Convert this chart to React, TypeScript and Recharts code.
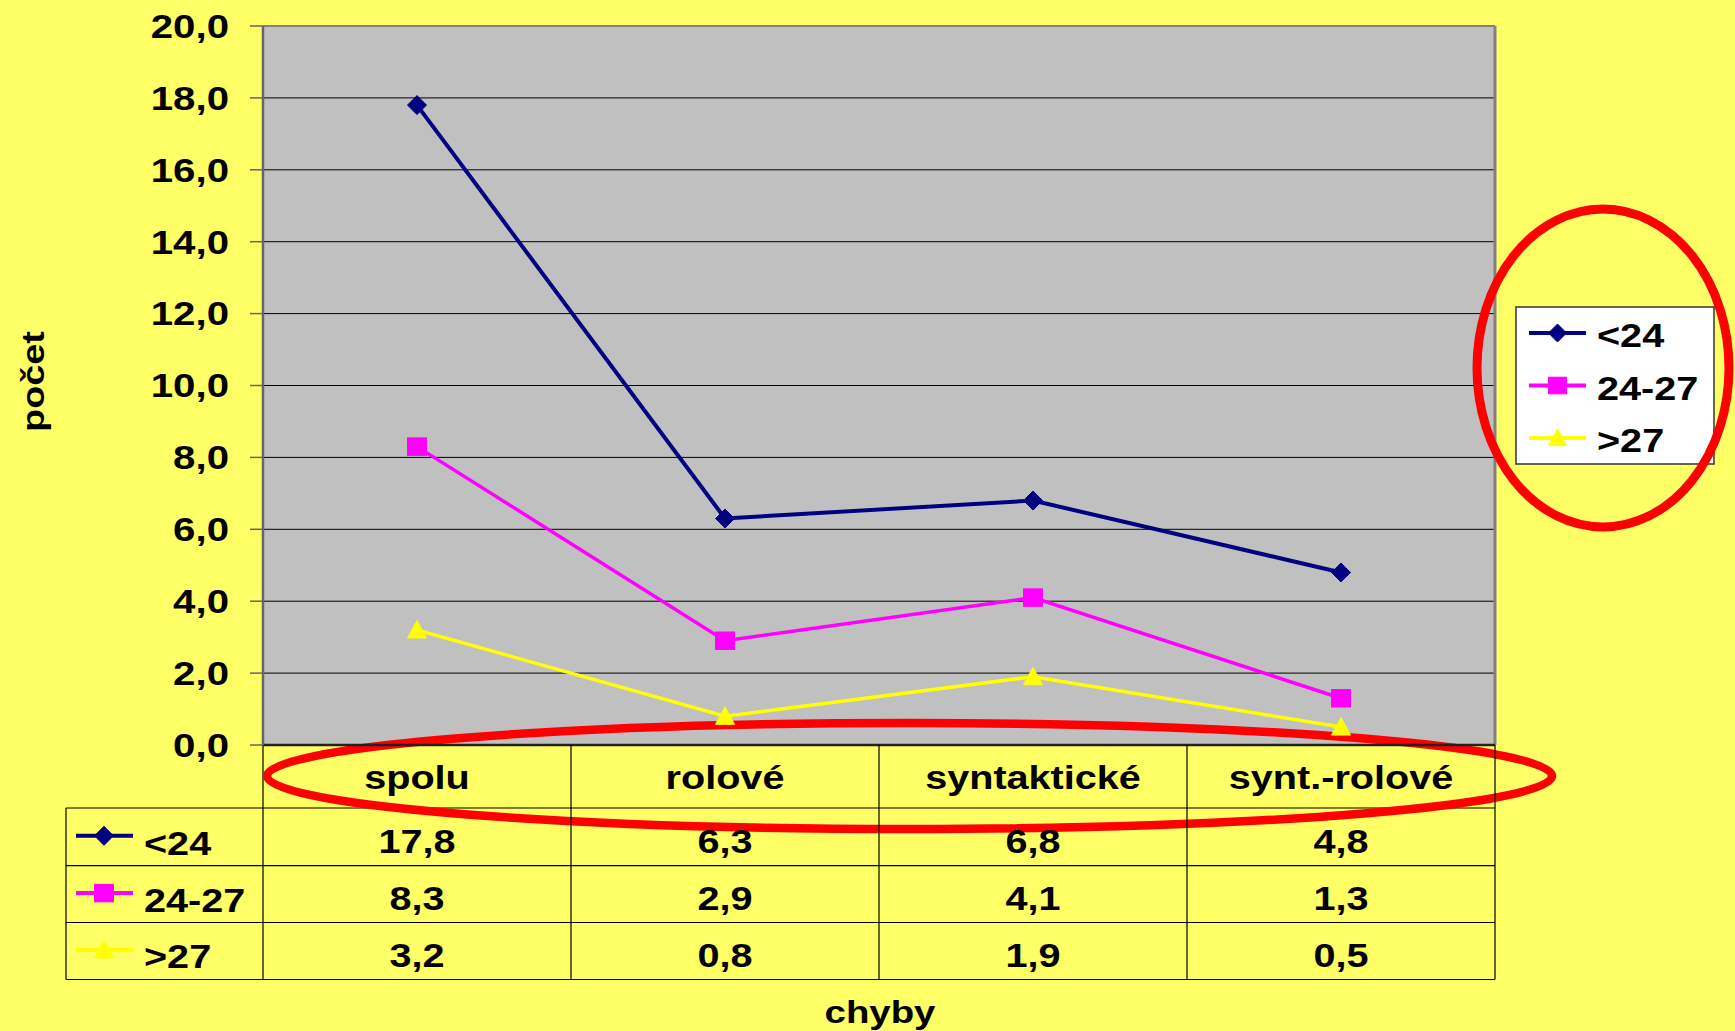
import React from 'react';
import { LineChart, Line, XAxis, YAxis, CartesianGrid, Customized } from 'recharts';

const categories = ['spolu', 'rolové', 'syntaktické', 'synt.-rolové'];
const seriesNames = ['<24', '24-27', '>27'];
const under24 = [17.8, 6.3, 6.8, 4.8];
const from24to27 = [8.3, 2.9, 4.1, 1.3];
const over27 = [3.2, 0.8, 1.9, 0.5];
const yTicks = [0, 2, 4, 6, 8, 10, 12, 14, 16, 18, 20];
const yAxisTitle = 'počet';
const xAxisTitle = 'chyby';

const seriesValues = [under24, from24to27, over27];
const seriesKeys = ['s0', 's1', 's2'];
const colors = ['#000080', '#FF00FF', '#FFFF00'];
const markers = ['diamond', 'square', 'triangle'];

const data = categories.map((name, i) => ({
  name,
  s0: under24[i],
  s1: from24to27[i],
  s2: over27[i],
}));

const W = 1735;
const H = 1031;
const FONT = '"Liberation Sans", Arial, sans-serif';
const STRETCH = 1.2;
const PLOT_LEFT = 263;
const PLOT_RIGHT = 1495;
const PLOT_TOP = 26;
const PLOT_BOTTOM = 745;
const HALF_BAND = 154;
const TABLE_LEFT = 66;
const ROW_LINES = [808, 865.7, 922.5, 979.5];
const HEADER_BASE = 789;
const ROW_BASES = [853, 910, 967];
const LABEL_BASES = [854.5, 911.5, 968];
const LEGEND_BOX = { x: 1516, y: 307, w: 198, h: 157 };
const BG = '#FFFF66';

const fmt = (v: number) => v.toFixed(1).replace('.', ',');

function SText({ x, y, anchor = 'middle', size = 33, rotate = 0, dy, children }: any) {
  const tr = `translate(${x},${y})${rotate ? ` rotate(${rotate})` : ''} scale(${STRETCH},1)`;
  return (
    <text transform={tr} x={0} y={0} dy={dy} textAnchor={anchor} fontFamily={FONT} fontWeight="bold" fontSize={size} fill="#000">
      {children}
    </text>
  );
}

function Marker({ type, cx, cy, color, r }: { type: string; cx: number; cy: number; color: string; r: number }) {
  if (type === 'diamond') {
    return <polygon points={`${cx},${cy - r} ${cx + r},${cy} ${cx},${cy + r} ${cx - r},${cy}`} fill={color} stroke={color} strokeWidth={1} />;
  }
  if (type === 'square') {
    return <rect x={cx - r} y={cy - r * 0.92} width={r * 2} height={r * 1.84} fill={color} stroke={color} strokeWidth={1} />;
  }
  return <polygon points={`${cx},${cy - r} ${cx + r},${cy + r * 0.85} ${cx - r},${cy + r * 0.85}`} fill={color} stroke={color} strokeWidth={1} />;
}

const makeDot = (si: number) => (props: any) => {
  const { cx, cy, index } = props;
  if (cx == null || cy == null) return <g key={`d${si}-${index}`} />;
  return (
    <g key={`d${si}-${index}`}>
      <Marker type={markers[si]} cx={cx} cy={cy} color={colors[si]} r={9.5} />
    </g>
  );
};

const CategoryTick = (props: any) => {
  const { x, payload } = props;
  const i = payload.index;
  return (
    <g>
      <SText x={x} y={HEADER_BASE}>{payload.value}</SText>
      {seriesValues.map((vals, r) => (
        <SText key={r} x={x} y={ROW_BASES[r]}>{fmt(vals[i])}</SText>
      ))}
      <line x1={x + HALF_BAND} y1={PLOT_BOTTOM} x2={x + HALF_BAND} y2={ROW_LINES[3]} stroke="#000" strokeWidth={1.2} />
    </g>
  );
};

const ValueTick = (props: any) => {
  const { x, y, payload } = props;
  return <SText x={x} y={y} anchor="end" size={33.5} dy="0.355em">{fmt(payload.value)}</SText>;
};

const Overlay = () => (
  <g>
    <line x1={PLOT_LEFT} y1={PLOT_BOTTOM} x2={PLOT_LEFT} y2={ROW_LINES[3]} stroke="#000" strokeWidth={1.2} />
    <line x1={TABLE_LEFT} y1={ROW_LINES[0]} x2={TABLE_LEFT} y2={ROW_LINES[3]} stroke="#000" strokeWidth={1.2} />
    {ROW_LINES.map((y, k) => (
      <line key={k} x1={TABLE_LEFT} y1={y} x2={PLOT_RIGHT} y2={y} stroke="#000" strokeWidth={1.2} />
    ))}
    {seriesNames.map((n, r) => {
      const cy = (ROW_LINES[r] + ROW_LINES[r + 1]) / 2 - 1;
      return (
        <g key={n}>
          <line x1={76} y1={cy} x2={133} y2={cy} stroke={colors[r]} strokeWidth={4} />
          <Marker type={markers[r]} cx={104} cy={cy} color={colors[r]} r={9.5} />
          <SText x={144} y={LABEL_BASES[r]} anchor="start">{n}</SText>
        </g>
      );
    })}
    {/* plot frame */}
    <line x1={PLOT_LEFT} y1={PLOT_TOP} x2={PLOT_RIGHT} y2={PLOT_TOP} stroke="#808080" strokeWidth={2} />
    <line x1={PLOT_RIGHT} y1={PLOT_TOP} x2={PLOT_RIGHT} y2={PLOT_BOTTOM} stroke="#808080" strokeWidth={3} />
    {/* legend */}
    <g transform={`translate(${LEGEND_BOX.x},${LEGEND_BOX.y})`}>
      <rect x={0} y={0} width={LEGEND_BOX.w} height={LEGEND_BOX.h} fill="#fff" stroke="#333" strokeWidth={1.5} />
      {seriesNames.map((n, r) => {
        const cy = 26 + r * 52.5;
        return (
          <g key={n}>
            <line x1={13} y1={cy} x2={70} y2={cy} stroke={colors[r]} strokeWidth={4} />
            <Marker type={markers[r]} cx={41.5} cy={cy} color={colors[r]} r={9} />
            <SText x={81} y={cy + 14} anchor="start">{n}</SText>
          </g>
        );
      })}
    </g>
    {/* axis titles */}
    <SText x={43.5} y={381.5} rotate={-90} size={31.5}>{yAxisTitle}</SText>
    <SText x={880} y={1023} size={32}>{xAxisTitle}</SText>
    {/* red annotation ellipses */}
    <ellipse cx={909.5} cy={776} rx={642.5} ry={53} fill="none" stroke="#FF0000" strokeWidth={8.5} />
    <ellipse cx={1603} cy={368} rx={126} ry={159} fill="none" stroke="#FF0000" strokeWidth={9} />
  </g>
);

export default function App() {
  return (
    <div style={{ position: 'absolute', left: 0, top: 0, width: W, height: H, background: BG }}>
      <LineChart
        width={W}
        height={H}
        data={data}
        margin={{ top: PLOT_TOP, right: W - PLOT_RIGHT, bottom: 50, left: 0 }}
        style={{ background: BG }}
      >
        <CartesianGrid horizontal vertical={false} stroke="#000" strokeWidth={1} fill="#C0C0C0" fillOpacity={1} />
        <XAxis
          dataKey="name"
          height={236}
          interval={0}
          padding={{ left: HALF_BAND, right: HALF_BAND }}
          axisLine={{ stroke: '#222', strokeWidth: 2.5 }}
          tickLine={false}
          tick={CategoryTick}
        />
        <YAxis
          width={PLOT_LEFT}
          domain={[0, 20]}
          ticks={yTicks}
          interval={0}
          axisLine={{ stroke: '#666', strokeWidth: 2.5 }}
          tickLine={{ stroke: '#666', strokeWidth: 1.5 }}
          tickSize={13}
          tickMargin={21}
          tick={ValueTick}
        />
        {seriesKeys.map((k, si) => (
          <Line
            key={k}
            dataKey={k}
            name={seriesNames[si]}
            stroke={colors[si]}
            strokeWidth={si === 0 ? 4 : 3.5}
            dot={makeDot(si)}
            activeDot={false}
            isAnimationActive={false}
          />
        ))}
        <Customized component={<Overlay />} />
      </LineChart>
    </div>
  );
}
